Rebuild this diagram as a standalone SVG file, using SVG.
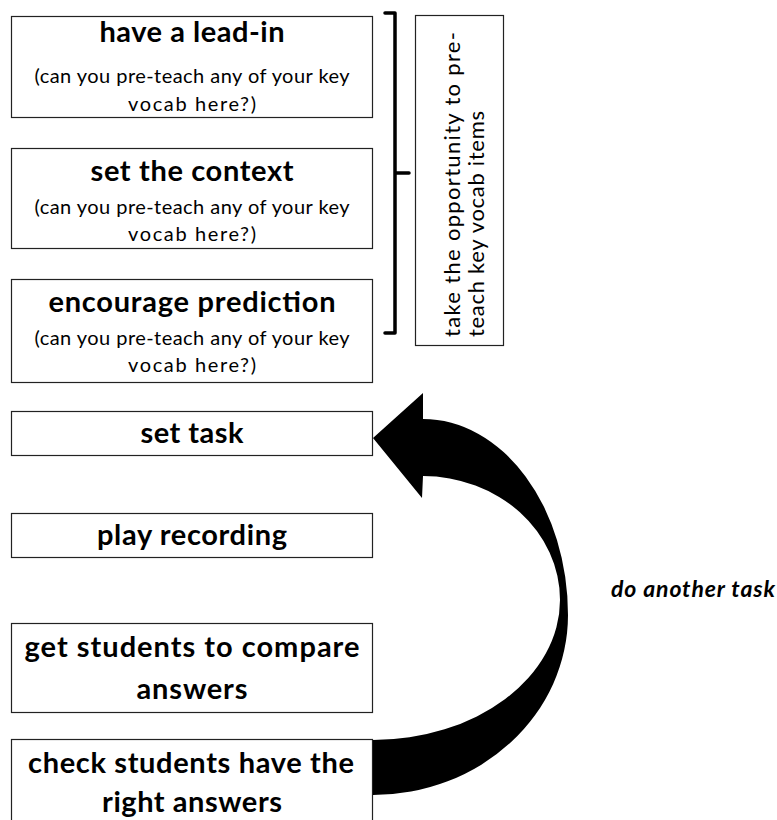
<svg xmlns="http://www.w3.org/2000/svg" width="777" height="820" viewBox="0 0 777 820">
<style>
.box{fill:#fff;stroke:#222;stroke-width:1.2}
.t{font-family:Lato,"Liberation Sans",sans-serif;font-weight:bold;font-size:29px;fill:#000;text-anchor:middle}
.s{font-family:Lato,"Liberation Sans",sans-serif;font-size:20px;fill:#000;text-anchor:middle}
.r{font-family:Lato,"Liberation Sans",sans-serif;font-size:22px;fill:#000}
.lbl{font-family:Lato,"Liberation Sans",sans-serif;font-style:italic;font-weight:bold;font-size:23px;fill:#000}
</style>
<rect width="777" height="820" fill="#fff"/>
<g id="lead-in">
<rect class="box" x="11.5" y="16.5" width="361" height="101"/>
<text class="t" x="192" y="42" textLength="185">have a lead-in</text>
<text class="s" x="192" y="83" textLength="315">(can you pre-teach any of your key</text>
<text class="s" x="192" y="111" textLength="128">vocab here?)</text>
</g>
<g id="context">
<rect class="box" x="11.5" y="148.5" width="361" height="100"/>
<text class="t" x="192" y="181" textLength="203">set the context</text>
<text class="s" x="192" y="214" textLength="315">(can you pre-teach any of your key</text>
<text class="s" x="192" y="241" textLength="128">vocab here?)</text>
</g>
<g id="prediction">
<rect class="box" x="11.5" y="279.5" width="361" height="103"/>
<text class="t" x="192" y="312" textLength="287">encourage prediction</text>
<text class="s" x="192" y="345" textLength="315">(can you pre-teach any of your key</text>
<text class="s" x="192" y="372" textLength="128">vocab here?)</text>
</g>
<g id="set-task">
<rect class="box" x="11.5" y="411.5" width="361" height="44"/>
<text class="t" x="192" y="443" textLength="103">set task</text>
</g>
<g id="play-recording">
<rect class="box" x="11.5" y="513.5" width="361" height="44"/>
<text class="t" x="192" y="545" textLength="190">play recording</text>
</g>
<g id="compare">
<rect class="box" x="11.5" y="623.5" width="361" height="89"/>
<text class="t" x="192" y="657" textLength="335">get students to compare</text>
<text class="t" x="192" y="699" textLength="111">answers</text>
</g>
<g id="check">
<rect class="box" x="11.5" y="739.5" width="361" height="100"/>
<text class="t" x="191" y="773" textLength="326">check students have the</text>
<text class="t" x="192" y="812" textLength="180">right answers</text>
</g>
<g id="pre-teach-note">
<rect class="box" x="415.5" y="15.5" width="88" height="330"/>
<text class="r" transform="translate(460,337) rotate(-90)" textLength="305">take the opportunity to pre-</text>
<text class="r" transform="translate(484,337) rotate(-90)" textLength="226">teach key vocab items</text>
</g>
<g id="connectors">
<path d="M385,13 H395 V333 H385 M395,173 H409" fill="none" stroke="#000" stroke-width="3.5" stroke-linecap="round" stroke-linejoin="round"/>
<path d="M373,438 L423,393 L423,419 A145,196 0 0 1 568,615 A195,180 0 0 1 373,795 L373,740 A187,140 0 0 0 560,600 A137,124 0 0 0 423,476 L422,498 Z" fill="#000"/>
<text class="lbl" x="611" y="597" textLength="164">do another task</text>
</g>
</svg>
